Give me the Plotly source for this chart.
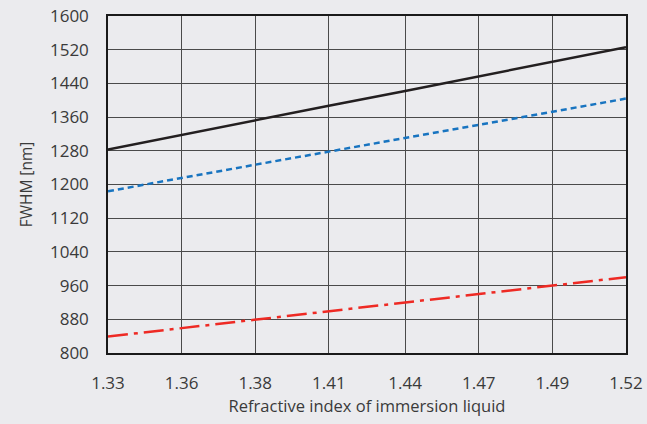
import plotly.graph_objects as go

x_vals = [1.33, 1.357, 1.384, 1.411, 1.439, 1.466, 1.493, 1.52]
x_labels = ["1.33", "1.36", "1.38", "1.41", "1.44", "1.47", "1.49", "1.52"]
black_series = [1283, 1318, 1352, 1387, 1422, 1457, 1491, 1526]
blue_series = [1184, 1216, 1247, 1278, 1310, 1341, 1373, 1404]
red_series = [839, 859, 879, 899, 920, 940, 960, 980]
y_ticks = [800, 880, 960, 1040, 1120, 1200, 1280, 1360, 1440, 1520, 1600]

bg = "#ebebee"
font_family = "Open Sans, DejaVu Sans, sans-serif"

fig = go.Figure()
fig.add_trace(go.Scatter(x=x_vals, y=black_series, mode="lines",
                         line=dict(color="#231f20", width=2.5), showlegend=False))
fig.add_trace(go.Scatter(x=x_vals, y=blue_series, mode="lines",
                         line=dict(color="#1874c0", width=2.5, dash="6px,4px"), showlegend=False))
fig.add_trace(go.Scatter(x=x_vals, y=red_series, mode="lines",
                         line=dict(color="#ee2a24", width=2.5, dash="20px,6px,4px,6px"), showlegend=False))

fig.update_layout(
    width=647, height=424,
    margin=dict(l=108, r=21, t=16, b=71, autoexpand=False),
    paper_bgcolor=bg, plot_bgcolor=bg,
    font=dict(family=font_family, color="#3a3a3a"),
    xaxis=dict(range=[1.33, 1.52], tickvals=x_vals, ticktext=x_labels,
               showgrid=True, gridcolor="#4a4a4a", gridwidth=1,
               showline=True, linecolor="#1a1a1a", linewidth=1.5, mirror=True,
               zeroline=False, ticks="", tickfont=dict(size=17), automargin=False,
               ticklabelstandoff=14,
               title=dict(text="Refractive index of immersion liquid", font=dict(size=16.5), standoff=6)),
    yaxis=dict(range=[800, 1600], tickvals=y_ticks,
               showgrid=True, gridcolor="#4a4a4a", gridwidth=1,
               showline=True, linecolor="#1a1a1a", linewidth=1.5, mirror=True,
               zeroline=False, ticks="", tickfont=dict(size=17), automargin=False,
               ticklabelstandoff=14,
               title=dict(text="FWHM [nm]", font=dict(size=15.5), standoff=14)),
)

fig.write_html("out.html")
